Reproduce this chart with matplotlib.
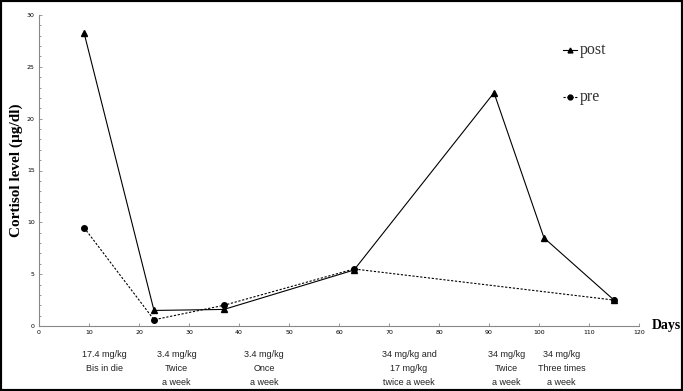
import matplotlib
matplotlib.use("Agg")
import matplotlib.pyplot as plt
from matplotlib.ticker import MultipleLocator
from matplotlib.patches import Rectangle

post_days = [9, 23, 37, 63, 91, 101, 115]
post_vals = [28.3, 1.5, 1.6, 5.4, 22.5, 8.5, 2.5]
pre_days = [9, 23, 37, 63, 115]
pre_vals = [9.5, 0.6, 2.0, 5.5, 2.5]

dose_x = [13, 27.5, 45, 74, 93.5, 104.5]
dose_labels = ["17.4 mg/kg\nBis in die", "3.4 mg/kg\nTwice\na week", "3.4 mg/kg\nOnce\na week",
               "34 mg/kg and\n17 mg/kg\ntwice a week", "34 mg/kg\nTwice\na week",
               "34 mg/kg\nThree times\na week"]

fig = plt.figure(figsize=(6.83, 3.91), dpi=100)
ax = fig.add_axes([39/683, 1-326/391, 600/683, 311/391])

ax.plot(post_days, post_vals, color="black", lw=0.8, marker="^", ms=4, label="post")
ax.plot(pre_days, pre_vals, color="black", lw=0.8, ls=(0, (2, 1.5)), marker="o", ms=4, label="pre")

ax.set_xlim(0, 120)
ax.set_ylim(0, 30)
ax.xaxis.set_major_locator(MultipleLocator(10))
ax.yaxis.set_major_locator(MultipleLocator(5))
ax.yaxis.set_minor_locator(MultipleLocator(1))
for s in ["top", "right"]:
    ax.spines[s].set_visible(False)
for s in ["left", "bottom"]:
    ax.spines[s].set_color("#888888")
    ax.spines[s].set_linewidth(0.8)
ax.tick_params(axis="both", which="both", direction="in", length=2, width=0.6, color="#888888",
               labelsize=4.5, pad=3)
ax.tick_params(axis="y", which="minor", length=1.5)

ax.set_ylabel("Cortisol level (µg/dl)", family="Liberation Serif", fontweight="bold", fontsize=11)
ax.yaxis.set_label_coords(-16/600, 0.5)
ax.text(652/683, 1-326/391, "Days", transform=fig.transFigure, family="Liberation Serif",
        fontweight="bold", fontsize=10, ha="left", va="center")

# legend-like entries
for ypix, lab, mk, ls in [(50, "post", "^", "-"), (97, "pre", "o", (0, (2, 1.5)))]:
    yf = 1 - ypix/391
    fig.add_artist(plt.Line2D([563/683, 577/683], [yf, yf], transform=fig.transFigure,
                              color="black", lw=0.8, ls=ls))
    fig.add_artist(plt.Line2D([570/683], [yf], transform=fig.transFigure, color="black",
                              marker=mk, ms=3.5, ls="none"))
    fig.text(580/683, yf, lab, family="Liberation Serif", fontsize=11.5, ha="left", va="center",
             color="#333333")

for x, lab in zip(dose_x, dose_labels):
    xf = (39 + x*5)/683
    fig.text(xf, 1-350/391, lab, family="Liberation Sans", fontsize=6.5, ha="center", va="top",
             linespacing=1.7, color="#222222")

fig.add_artist(Rectangle((0, 0), 1, 1, transform=fig.transFigure, fill=False, lw=3, edgecolor="black"))

fig.savefig("out.png", dpi=100)
